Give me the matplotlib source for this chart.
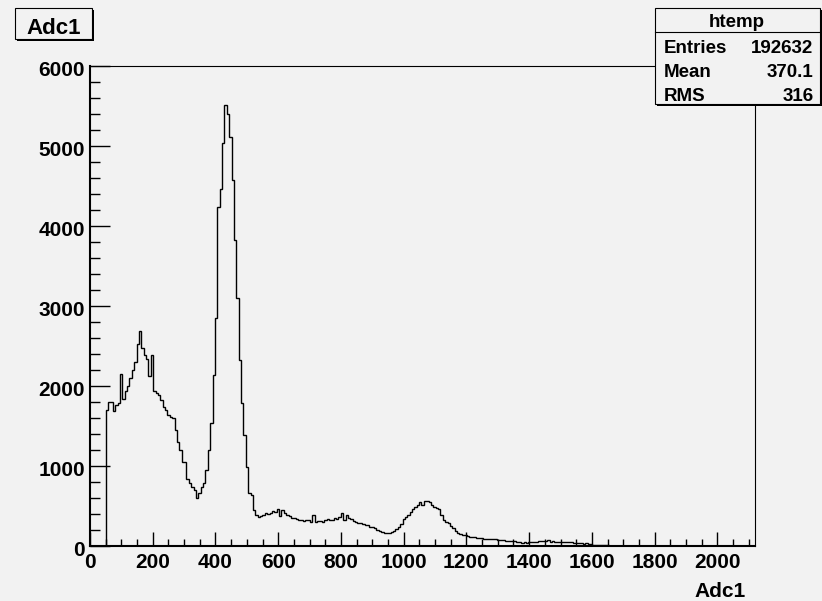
#!/usr/bin/env python

import matplotlib
matplotlib.use("Agg")
import matplotlib.pyplot as plt
from matplotlib.patches import Rectangle
from matplotlib.ticker import MultipleLocator
from matplotlib.transforms import ScaledTranslation
import numpy as np

# Histogram binning
bin_lo = 50.0
bin_width = 7.57

# Bin contents, from the first filled bin onwards
counts = [
  1700, 1800, 1800, 1690, 1760, 1790, 2150, 1840, 1930, 2000,
  2100, 2200, 2300, 2520, 2680, 2470, 2380, 2340, 2120, 2390,
  1940, 1910, 1880, 1820, 1740, 1700, 1630, 1610, 1600, 1450,
  1300, 1200, 1050, 1050, 830, 780, 740, 700, 600, 660,
  730, 780, 950, 1200, 1530, 2135, 2845, 4240, 4460, 5040,
  5510, 5400, 5115, 4575, 3825, 3095, 2325, 1780, 1385, 990,
  663, 640, 447, 384, 365, 371, 385, 413, 397, 405,
  438, 426, 455, 375, 447, 413, 390, 370, 350, 342,
  335, 325, 321, 313, 318, 320, 300, 384, 292, 313,
  305, 301, 321, 330, 321, 321, 342, 330, 355, 405,
  321, 384, 350, 330, 313, 301, 290, 280, 271, 265,
  259, 240, 230, 217, 200, 180, 170, 163, 155, 158,
  175, 190, 210, 235, 270, 330, 365, 384, 426, 455,
  488, 515, 551, 510, 560, 563, 545, 510, 480, 470,
  455, 384, 321, 300, 280, 250, 217, 190, 165, 150,
  140, 130, 121, 115, 110, 105, 101, 100, 96, 90,
  88, 88, 82, 84, 78, 72, 71, 66, 63, 63,
  58, 60, 55, 50, 44, 40, 45, 40, 42, 42,
  48, 42, 55, 60, 63, 55, 68, 50, 60, 52,
  50, 50, 45, 50, 45, 42, 42, 40, 38, 40,
  32, 25, 30, 20, 16, 13, 10, 8, 6, 5,
  4, 3, 2, 2, 1,
]

hist_name = "htemp"
var_name = "Adc1"
stats = [("Entries", "192632"), ("Mean", "370.1"), ("RMS", "316")]

W, H = 822, 601
BG = "#f2f2f2"
FONT = "Liberation Sans"

def fx(px):
  return px / W

def fy(py):
  return 1.0 - py / H

def add_box(fig, x0, y0, x1, y1, shadow=2):
  # ROOT style pave: black shadow offset down/right, then the box
  fig.add_artist(Rectangle((fx(x0 + shadow), fy(y1 + shadow)), fx(x1 - x0), (y1 - y0) / H,
                           transform=fig.transFigure, facecolor="black", edgecolor="none", zorder=5))
  fig.add_artist(Rectangle((fx(x0), fy(y1)), fx(x1 - x0), (y1 - y0) / H,
                           transform=fig.transFigure, facecolor=BG, edgecolor="black", lw=0.8, zorder=6))

def main():
  fig = plt.figure(figsize=(W / 100.0, H / 100.0), dpi=100, facecolor=BG)
  left, right, top, bottom = 90, 755, 66, 545.7
  ax = fig.add_axes([fx(left), fy(bottom), fx(right - left), (bottom - top) / H])
  ax.set_facecolor(BG)

  c = np.array(counts, dtype=float)
  edges = bin_lo + bin_width * np.arange(len(c) + 1)
  ax.stairs(c, edges, baseline=0, color="black", lw=1.0)

  ax.set_xlim(0, 2120)
  ax.set_ylim(0, 6000)
  ax.xaxis.set_major_locator(MultipleLocator(200))
  ax.xaxis.set_minor_locator(MultipleLocator(50))
  ax.yaxis.set_major_locator(MultipleLocator(1000))
  ax.yaxis.set_minor_locator(MultipleLocator(200))
  ax.tick_params(axis="x", which="major", direction="in", length=10, width=1, pad=5)
  ax.tick_params(axis="x", which="minor", direction="in", length=5, width=1)
  ax.tick_params(axis="y", which="major", direction="in", length=14.4, width=1, pad=3.6)
  ax.tick_params(axis="y", which="minor", direction="in", length=7, width=1)
  for lab in ax.get_xticklabels() + ax.get_yticklabels():
    lab.set_fontfamily(FONT)
    lab.set_fontweight("bold")
    lab.set_fontsize(15)
  # ROOT puts the y labels a little below their ticks
  shift = ScaledTranslation(0, -0.03, fig.dpi_scale_trans)
  for lab in ax.get_yticklabels():
    lab.set_transform(lab.get_transform() + shift)
  for s in ["top", "right"]:
    ax.spines[s].set_linewidth(0.8)
  for s in ["left", "bottom"]:
    ax.spines[s].set_linewidth(1.5)

  # x axis title
  fig.text(fx(746), fy(597), var_name, ha="right", va="baseline",
           fontfamily=FONT, fontweight="bold", fontsize=15)

  # title pave
  add_box(fig, 15, 8, 92, 39)
  fig.text(fx(54), fy(34.5), var_name, ha="center", va="baseline",
           fontfamily=FONT, fontweight="bold", fontsize=16, zorder=7)

  # stats pave
  add_box(fig, 655, 8, 819.5, 103.5)
  fig.add_artist(plt.Line2D([fx(655), fx(819.5)], [fy(32), fy(32)], transform=fig.transFigure,
                            color="black", lw=0.8, zorder=7))
  fig.text(fx(737), fy(27.3), hist_name, ha="center", va="baseline",
           fontfamily=FONT, fontweight="bold", fontsize=13.5, zorder=7)
  base = [53.3, 77.3, 100.7]
  for (name, val), b in zip(stats, base):
    fig.text(fx(664), fy(b), name, ha="left", va="baseline",
             fontfamily=FONT, fontweight="bold", fontsize=13.5, zorder=7)
    fig.text(fx(813.3), fy(b), val, ha="right", va="baseline",
             fontfamily=FONT, fontweight="bold", fontsize=13.5, zorder=7)

  fig.savefig("out.png", dpi=100, facecolor=BG)

if __name__ == "__main__":
  main()
